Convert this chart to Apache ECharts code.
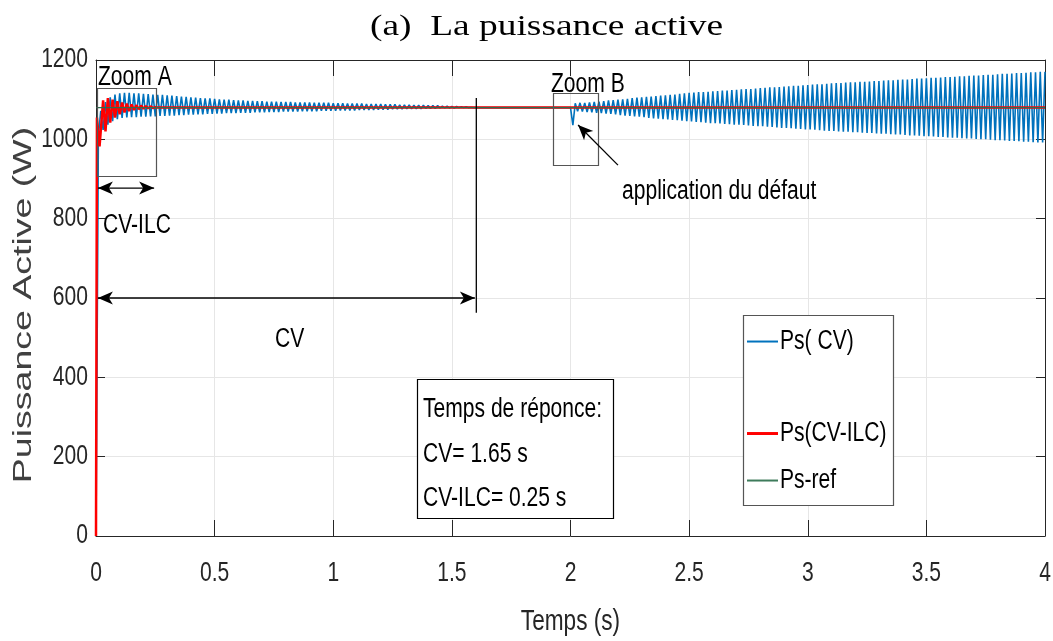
<!DOCTYPE html>
<html><head><meta charset="utf-8">
<script src="https://cdn.jsdelivr.net/npm/echarts@6/dist/echarts.min.js"></script>
<style>html,body{margin:0;padding:0;background:#fff}#c{width:1053px;height:641px}</style>
</head><body><div id="c"></div>
<script>
// ---------- data ----------
const cvStep = 0.01;            // sampling of the CV trace (s)
const cvPart1Start = 0;         // first interval: start-up transient
const cvPart1 = [
  0, 1008, 1072, 1024, 1094, 1037, 1106, 1046, 1113, 1051,
  1116, 1054, 1117, 1055, 1117, 1056, 1116, 1056, 1116, 1057,
  1115, 1057, 1114, 1058, 1113, 1058, 1112, 1059, 1112, 1059,
  1111, 1060, 1110, 1060, 1109, 1061, 1108, 1061, 1107, 1062,
  1106, 1062, 1105, 1063, 1104, 1063, 1103, 1064, 1103, 1064,
  1102, 1065, 1101, 1065, 1100, 1066, 1100, 1066, 1099, 1066,
  1098, 1067, 1098, 1067, 1097, 1067, 1097, 1068, 1096, 1068,
  1096, 1068, 1095, 1069, 1095, 1069, 1095, 1069, 1094, 1070,
  1094, 1070, 1094, 1070, 1093, 1070, 1093, 1071, 1093, 1071,
  1093, 1071, 1092, 1071, 1092, 1072, 1092, 1072, 1092, 1072,
  1091, 1072, 1091, 1073, 1091, 1073, 1090, 1073, 1090, 1073,
  1090, 1074, 1090, 1074, 1089, 1074, 1089, 1074, 1089, 1075,
  1089, 1075, 1088, 1075, 1088, 1076, 1088, 1076, 1087, 1076,
  1087, 1077, 1087, 1077, 1086, 1077, 1086, 1077, 1086, 1078,
  1085, 1078, 1085, 1078, 1085, 1079, 1084, 1079, 1084, 1079,
  1083, 1079, 1083, 1080, 1082, 1080, 1082, 1080, 1081, 1080,
  1080
];
const cvPart2Start = 2.0;       // second interval: after the fault
const cvPart2 = [
  1080, 1036, 1091, 1071, 1092, 1070, 1092, 1069, 1093, 1068,
  1094, 1067, 1095, 1066, 1096, 1065, 1098, 1064, 1099, 1063,
  1100, 1061, 1101, 1060, 1102, 1059, 1104, 1058, 1105, 1057,
  1106, 1056, 1107, 1054, 1108, 1053, 1109, 1052, 1110, 1051,
  1111, 1050, 1112, 1049, 1113, 1048, 1115, 1047, 1116, 1046,
  1117, 1045, 1118, 1044, 1119, 1043, 1119, 1042, 1120, 1041,
  1121, 1041, 1122, 1040, 1123, 1039, 1123, 1038, 1124, 1037,
  1125, 1037, 1126, 1036, 1127, 1035, 1127, 1034, 1128, 1033,
  1129, 1033, 1130, 1032, 1131, 1031, 1131, 1030, 1132, 1029,
  1133, 1029, 1134, 1028, 1135, 1027, 1135, 1026, 1136, 1025,
  1137, 1025, 1138, 1024, 1139, 1023, 1139, 1022, 1140, 1021,
  1141, 1021, 1142, 1020, 1142, 1019, 1143, 1019, 1144, 1018,
  1144, 1018, 1145, 1017, 1145, 1016, 1146, 1016, 1147, 1015,
  1147, 1014, 1148, 1014, 1149, 1013, 1149, 1012, 1150, 1012,
  1151, 1011, 1151, 1010, 1152, 1010, 1153, 1009, 1153, 1008,
  1154, 1008, 1155, 1007, 1155, 1006, 1156, 1006, 1157, 1005,
  1157, 1004, 1158, 1004, 1159, 1003, 1159, 1002, 1160, 1002,
  1161, 1001, 1161, 1000, 1162, 1000, 1163, 999, 1163, 998,
  1164, 998, 1165, 997, 1165, 996, 1166, 996, 1167, 995,
  1167, 994, 1168, 994, 1169, 993, 1169, 992, 1170, 992,
  1170
];
const ilcT = [0, 0.004, 0.015, 0.03, 0.04, 0.05, 0.06, 0.07, 0.08, 0.09, 0.10, 0.11, 0.12, 0.13,
              0.14, 0.15, 0.16, 0.17, 0.18, 0.19, 0.20, 0.21, 0.22, 0.23, 0.24, 0.25, 0.26, 4.0];
const ilcP = [0, 1055, 982, 1098, 1020, 1104, 1042, 1100, 1055, 1096, 1063, 1093, 1068, 1090,
              1071, 1088, 1074, 1086, 1076, 1085, 1077, 1084, 1078, 1083, 1079, 1081, 1080, 1080];
const refT = [0, 4];
const refP = [1080, 1080];

const seriesNames = ['Ps( CV)', 'Ps(CV-ILC)', 'Ps-ref'];
const titleText = '(a)  La puissance active';
const xTitle = 'Temps (s)';
const yTitle = 'Puissance Active (W)';
const boxLines = ['Temps de réponce:', 'CV= 1.65 s', 'CV-ILC= 0.25 s'];

// ---------- horizontally scaled font aliases (the reference's text is stretched/squeezed) ----------
(function () {
  const MAP = {
    NarrowSans: ['"Liberation Sans"', 0.78],
    WideSans: ['"Liberation Sans"', 1.5],
    WideSerif: ['"Liberation Serif"', 1.29]
  };
  const proto = CanvasRenderingContext2D.prototype;
  const oFill = proto.fillText, oStroke = proto.strokeText, oMeasure = proto.measureText;
  function lookup(ctx) {
    const f = ctx.font;
    for (const k in MAP) if (f.indexOf(k) >= 0) return [k, f];
    return null;
  }
  function apply(ctx, hit) {
    const m = MAP[hit[0]];
    ctx.font = hit[1].replace(new RegExp('"?' + hit[0] + '"?'), m[0]);
    return m[1];
  }
  function draw(orig) {
    return function (t, x, y, mw) {
      const hit = lookup(this);
      if (!hit) return orig.apply(this, arguments);
      const s = apply(this, hit);
      this.save();
      this.translate(x, y);
      this.scale(s, 1);
      if (mw === undefined) orig.call(this, t, 0, 0); else orig.call(this, t, 0, 0, mw / s);
      this.restore();
      this.font = hit[1];
    };
  }
  proto.fillText = draw(oFill);
  proto.strokeText = draw(oStroke);
  proto.measureText = function (t) {
    const hit = lookup(this);
    if (!hit) return oMeasure.apply(this, arguments);
    const s = apply(this, hit);
    const r = oMeasure.call(this, t);
    this.font = hit[1];
    return {
      width: r.width * s,
      actualBoundingBoxLeft: r.actualBoundingBoxLeft * s,
      actualBoundingBoxRight: r.actualBoundingBoxRight * s,
      actualBoundingBoxAscent: r.actualBoundingBoxAscent,
      actualBoundingBoxDescent: r.actualBoundingBoxDescent,
      fontBoundingBoxAscent: r.fontBoundingBoxAscent,
      fontBoundingBoxDescent: r.fontBoundingBoxDescent
    };
  };
})();

// ---------- build ----------
const cvData = cvPart1.map((v, i) => [+(cvPart1Start + i * cvStep).toFixed(3), v])
  .concat(cvPart2.map((v, i) => [+(cvPart2Start + i * cvStep).toFixed(3), v]));
const ilcData = ilcT.map((t, i) => [t, ilcP[i]]);
const refData = refT.map((t, i) => [t, refP[i]]);

const FONT = 'NarrowSans, sans-serif';
const AX = '#262626';
const chart = echarts.init(document.getElementById('c'), null, { renderer: 'canvas' });

function axisCommon(pos, showLabel, tickLen) {
  return {
    position: pos,
    axisLine: { show: true, onZero: false, lineStyle: { color: AX, width: 1 } },
    axisTick: { show: true, inside: true, length: tickLen, lineStyle: { color: AX, width: 1 } },
    axisLabel: { show: showLabel },
    splitLine: { show: showLabel, lineStyle: { color: '#e6e6e6', width: 1 } }
  };
}

const legendBase = (name, top, h) => ({
  data: [name], left: 747, top: top, orient: 'horizontal', padding: 0, z: 20,
  icon: 'rect', itemWidth: 31, itemHeight: h, selectedMode: false,
  textStyle: { fontFamily: FONT, fontSize: 27, color: '#000', padding: [0, 0, 0, -3] }
});

chart.setOption({
  animation: false,
  backgroundColor: '#fff',
  title: {
    text: titleText, left: 365, top: 4,
    textStyle: { fontFamily: 'WideSerif, serif', fontSize: 29, fontWeight: 'normal', color: '#000' }
  },
  grid: { left: 96, right: 8, top: 60, bottom: 105, show: false, containLabel: false, outerBoundsMode: 'none' },
  legend: [
    legendBase(seriesNames[0], 331, 2),
    legendBase(seriesNames[1], 423, 3),
    legendBase(seriesNames[2], 470, 2)
  ],
  xAxis: [
    Object.assign({ type: 'value', min: 0, max: 4, interval: 0.5,
      name: xTitle, nameLocation: 'middle', nameGap: 75, nameMoveOverlap: false,
      nameTextStyle: { fontFamily: FONT, fontSize: 29, color: AX } }, axisCommon('bottom', true, 16),
      { axisLabel: { show: true, fontFamily: FONT, fontSize: 27, color: AX, margin: 27,
        formatter: v => String(v) } }),
    Object.assign({ type: 'value', min: 0, max: 4, interval: 0.5 }, axisCommon('top', false, 16))
  ],
  yAxis: [
    Object.assign({ type: 'value', min: 0, max: 1200, interval: 200,
      name: yTitle, nameLocation: 'middle', nameGap: 53, nameRotate: 90, nameMoveOverlap: false,
      nameTextStyle: { fontFamily: 'WideSans, sans-serif', fontSize: 25, color: '#404040', padding: [0, 14, 0, 0] } },
      axisCommon('left', true, 9),
      { axisLabel: { show: true, fontFamily: FONT, fontSize: 27, color: AX, margin: 8,
        formatter: v => String(v) } }),
    Object.assign({ type: 'value', min: 0, max: 1200, interval: 200 }, axisCommon('right', false, 9))
  ],
  series: [
    { type: 'line', name: seriesNames[0], data: cvData, showSymbol: false, symbol: 'none',
      lineStyle: { color: '#0072BD', width: 1.6 }, itemStyle: { color: '#0072BD' }, z: 2 },
    { type: 'line', name: seriesNames[1], data: ilcData, showSymbol: false, symbol: 'none',
      lineStyle: { color: '#FF0000', width: 2.5 }, itemStyle: { color: '#FF0000' }, z: 3 },
    { type: 'line', name: seriesNames[2], data: refData, showSymbol: false, symbol: 'none',
      lineStyle: { color: '#2F6B4F', width: 1.4 }, itemStyle: { color: '#3E7B5B' }, z: 4 }
  ]
});

// ---------- annotations (in data units, converted by the axes) ----------
const zoomA = [0.003, 908, 0.25, 1130];
const zoomB = [1.926, 935, 2.114, 1116];
const cvMark = [1.603, 563, 1.603, 1104];
const arrowCV = [0.008, 600, 1.597, 600];
const arrowILC = [0.008, 877, 0.245, 877];
const arrowFault = [2.20, 935, 2.032, 1036];
const infoBox = [1.354, 45, 2.18, 396];
const legendBox = [2.728, 78, 3.36, 557];

const P = (x, y) => chart.convertToPixel({ xAxisIndex: 0, yAxisIndex: 0 }, [x, y]);
function rectEl(b, color, fill, z) {
  const a = P(b[0], b[3]), c = P(b[2], b[1]);
  return { type: 'rect', silent: true, z: z || 50,
    shape: { x: Math.round(a[0]) + 0.5, y: Math.round(a[1]) + 0.5, width: Math.round(c[0] - a[0]), height: Math.round(c[1] - a[1]) },
    style: { fill: fill || null, stroke: color, lineWidth: 1.2 } };
}
function lineEl(p1, p2) {
  return { type: 'line', silent: true, z: 50, shape: { x1: p1[0], y1: p1[1], x2: p2[0], y2: p2[1] },
    style: { stroke: '#000', lineWidth: 1.3 } };
}
function headEl(tip, from) {
  const dx = tip[0] - from[0], dy = tip[1] - from[1];
  const L = Math.hypot(dx, dy), ux = dx / L, uy = dy / L, nx = -uy, ny = ux;
  const len = 15, hw = 6.5, notch = 11;
  const bx = tip[0] - ux * len, by = tip[1] - uy * len;
  return { type: 'polygon', silent: true, z: 51, shape: { points: [
      tip, [bx + nx * hw, by + ny * hw], [tip[0] - ux * notch, tip[1] - uy * notch], [bx - nx * hw, by - ny * hw]] },
    style: { fill: '#000', stroke: null } };
}
function dblArrow(a) {
  const p1 = P(a[0], a[1]), p2 = P(a[2], a[3]);
  return [lineEl(p1, p2), headEl(p1, p2), headEl(p2, p1)];
}
function textEl(t, x, y, size) {
  return { type: 'text', silent: true, z: 60, x: x, y: y,
    style: { text: t, fill: '#000', font: size + 'px ' + FONT, textAlign: 'left', textVerticalAlign: 'middle' } };
}

const fa1 = P(arrowFault[0], arrowFault[1]), fa2 = P(arrowFault[2], arrowFault[3]);
const graphics = [
  rectEl(zoomA, '#555'),
  rectEl(zoomB, '#555'),
  lineEl(P(cvMark[0], cvMark[1]), P(cvMark[2], cvMark[3])),
  ...dblArrow(arrowCV),
  ...dblArrow(arrowILC),
  lineEl(fa1, fa2), headEl(fa2, fa1),
  rectEl(infoBox, '#000', '#fff', 40),
  rectEl(legendBox, '#555', '#fff', 1),
  textEl('Zoom A', 98, 78, 27),
  textEl('CV-ILC', 103, 226, 27),
  textEl('Zoom B', 551, 85, 27),
  textEl('application du défaut', 622, 192, 27),
  textEl('CV', 275, 340, 27),
  textEl(boxLines[0], 423, 410, 27),
  textEl(boxLines[1], 423, 455, 27),
  textEl(boxLines[2], 423, 499, 27)
];
chart.setOption({ graphic: { elements: graphics } });
</script>
</body></html>
